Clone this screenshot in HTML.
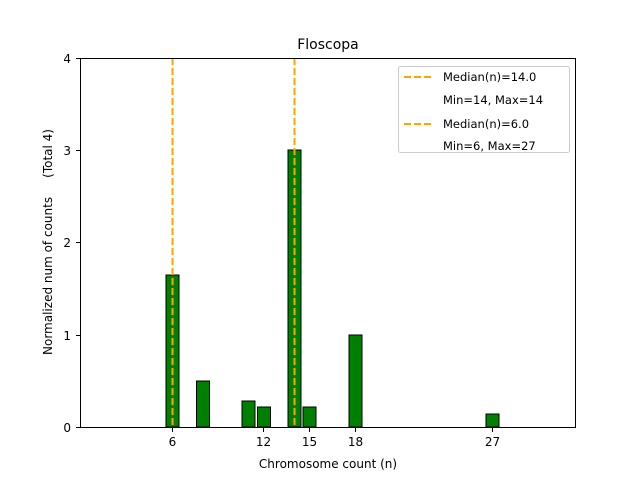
<!DOCTYPE html>
<html><head><meta charset="utf-8"><style>body{margin:0;background:#fff}svg{display:block}text{white-space:pre}</style></head><body>
<svg width="640" height="480" xmlns="http://www.w3.org/2000/svg" font-family="DejaVu Sans, Liberation Sans, sans-serif">
<rect width="640" height="480" fill="#fff"/>
<g fill="#008000" stroke="#000" stroke-width="1">
<rect x="166" y="275" width="13" height="152"/>
<rect x="196.5" y="381" width="13" height="46"/>
<rect x="242" y="401" width="13" height="26"/>
<rect x="257.5" y="407" width="13" height="20"/>
<rect x="288" y="150" width="13" height="277"/>
<rect x="303" y="407" width="13" height="20"/>
<rect x="349" y="335" width="13" height="92"/>
<rect x="486" y="414" width="13" height="13"/>
</g>
<g stroke="#FFA500" stroke-width="2" stroke-dasharray="7,3">
<line x1="172.5" y1="58" x2="172.5" y2="427"/>
<line x1="294.5" y1="58" x2="294.5" y2="427"/>
</g>
<rect x="80.5" y="58.5" width="495" height="369" fill="none" stroke="#000" stroke-width="1"/>
<g stroke="#000">
<line x1="80" y1="427.5" x2="76" y2="427.5"/><line x1="80" y1="335.5" x2="76" y2="335.5"/>
<line x1="80" y1="242.5" x2="76" y2="242.5"/><line x1="80" y1="150.5" x2="76" y2="150.5"/>
<line x1="80" y1="58.5" x2="76" y2="58.5"/>
<line x1="172.5" y1="428" x2="172.5" y2="432"/><line x1="263.5" y1="428" x2="263.5" y2="432"/>
<line x1="309.5" y1="428" x2="309.5" y2="432"/><line x1="355.5" y1="428" x2="355.5" y2="432"/>
<line x1="492.5" y1="428" x2="492.5" y2="432"/>
</g>
<g font-size="12" fill="#000">
<g text-anchor="end"><text x="71" y="432">0</text><text x="71" y="340">1</text><text x="71" y="247">2</text><text x="71" y="155">3</text><text x="71" y="63">4</text></g>
<g text-anchor="middle"><text x="172.5" y="446">6</text><text x="263.5" y="446">12</text><text x="309.5" y="446">15</text><text x="355.5" y="446">18</text><text x="492.5" y="446">27</text>
<text x="328" y="468">Chromosome count (n)</text>
<text x="328" y="49" font-size="14">Floscopa</text>
<text transform="translate(52,242) rotate(-90)" xml:space="preserve">Normalized num of counts     (Total 4)</text></g>
</g>
<rect x="398.5" y="66.5" width="171" height="86" rx="2" fill="#fff" fill-opacity="0.8" stroke="#ccc"/>
<g stroke="#FFA500" stroke-width="2" stroke-dasharray="7,3"><line x1="404" y1="77" x2="432" y2="77"/><line x1="404" y1="124" x2="432" y2="124"/></g>
<g font-size="11.5" fill="#000"><text x="443" y="81">Median(n)=14.0</text><text x="443" y="104">Min=14, Max=14</text><text x="443" y="128">Median(n)=6.0</text><text x="443" y="150">Min=6, Max=27</text></g>
</svg>
</body></html>
